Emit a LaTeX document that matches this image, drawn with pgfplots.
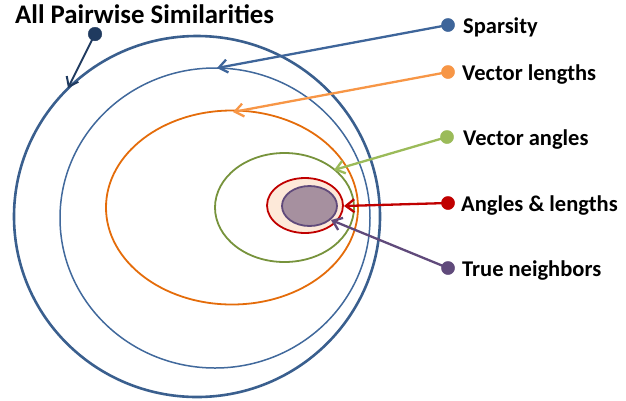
\documentclass[border=0pt]{standalone}
\usepackage{pgfplots}
\pgfplotsset{compat=1.18}
\usepackage{fontspec}
\setmainfont{Carlito}
\usetikzlibrary{arrows.meta}
\definecolor{bOuter}{HTML}{3A5F8E}
\definecolor{bInner}{HTML}{41699C}
\definecolor{spars}{HTML}{3E659A}
\definecolor{navy}{HTML}{1F3A5F}
\definecolor{orEll}{HTML}{E46C0A}
\definecolor{orLt}{HTML}{F79646}
\definecolor{grEll}{HTML}{77933C}
\definecolor{grLt}{HTML}{9BBB59}
\definecolor{redc}{HTML}{C00000}
\definecolor{peach}{HTML}{FDE9D9}
\definecolor{purpL}{HTML}{604A7B}
\definecolor{purpF}{HTML}{A6909F}
\begin{document}
\begin{tikzpicture}
\begin{axis}[scale only axis, width=626pt, height=400pt,
  xmin=0, xmax=626, ymin=0, ymax=400, y dir=reverse,
  hide axis, clip=false]
\path (rel axis cs:0,0) rectangle (rel axis cs:1,1);
% ellipses
\draw[bOuter, line width=2.6pt] (axis cs:197,216.5) ellipse [x radius=183, y radius=180.5];
\draw[bInner, line width=1.5pt] (axis cs:215,218) ellipse [x radius=155, y radius=150];
\draw[orEll, line width=1.8pt] (axis cs:232,207.5) ellipse [x radius=126, y radius=97];
\draw[grEll, line width=1.8pt] (axis cs:284.5,207.5) ellipse [x radius=69.5, y radius=54.5];
\draw[redc, fill=peach, line width=1.8pt] (axis cs:305,205.5) ellipse [x radius=38, y radius=27.5];
\draw[purpL, fill=purpF, line width=1.8pt] (axis cs:309.5,206) ellipse [x radius=27.5, y radius=20];
% arrows
\addplot[navy, line width=2pt, -{Straight Barb[length=8.5pt,width=13pt]}] coordinates {(95,34) (68,88)};
\addplot[spars, line width=2.3pt, -{Straight Barb[length=8.5pt,width=13pt]}] coordinates {(448,25) (217,68)};
\addplot[orLt, line width=2.3pt, -{Straight Barb[length=8.5pt,width=13pt]}] coordinates {(448,72) (233,112)};
\addplot[grLt, line width=2.3pt, -{Straight Barb[length=8.5pt,width=13pt]}] coordinates {(447,137) (334,170)};
\addplot[redc, line width=2.3pt, -{Straight Barb[length=8.5pt,width=13pt]}] coordinates {(448,203) (344,206)};
\addplot[purpL, line width=2.3pt, -{Straight Barb[length=8.5pt,width=13pt]}] coordinates {(448,268) (331,220)};
% dots
\addplot[only marks, mark=*, mark size=6.8pt, navy] coordinates {(95,34)};
\addplot[only marks, mark=*, mark size=6.6pt, spars] coordinates {(448,25)};
\addplot[only marks, mark=*, mark size=6.6pt, orLt] coordinates {(448,72)};
\addplot[only marks, mark=*, mark size=6.6pt, grLt] coordinates {(447,137)};
\addplot[only marks, mark=*, mark size=6.6pt, redc] coordinates {(448,203)};
\addplot[only marks, mark=*, mark size=6.6pt, purpL] coordinates {(448,268)};
% labels
\node[anchor=base west, inner sep=0pt, font=\fontsize{26.8}{30}\selectfont\bfseries] at (axis cs:15,23) {All Pairwise Similarities};
\node[anchor=base west, inner sep=0pt, font=\fontsize{22.5}{26}\selectfont\bfseries] at (axis cs:463,33) {Sparsity};
\node[anchor=base west, inner sep=0pt, font=\fontsize{22.5}{26}\selectfont\bfseries] at (axis cs:462,80) {Vector lengths};
\node[anchor=base west, inner sep=0pt, font=\fontsize{22.5}{26}\selectfont\bfseries] at (axis cs:463,145) {Vector angles};
\node[anchor=base west, inner sep=0pt, font=\fontsize{22.5}{26}\selectfont\bfseries] at (axis cs:461,211) {Angles \& lengths};
\node[anchor=base west, inner sep=0pt, font=\fontsize{22.5}{26}\selectfont\bfseries] at (axis cs:462,276) {True neighbors};
\end{axis}
\end{tikzpicture}
\end{document}
